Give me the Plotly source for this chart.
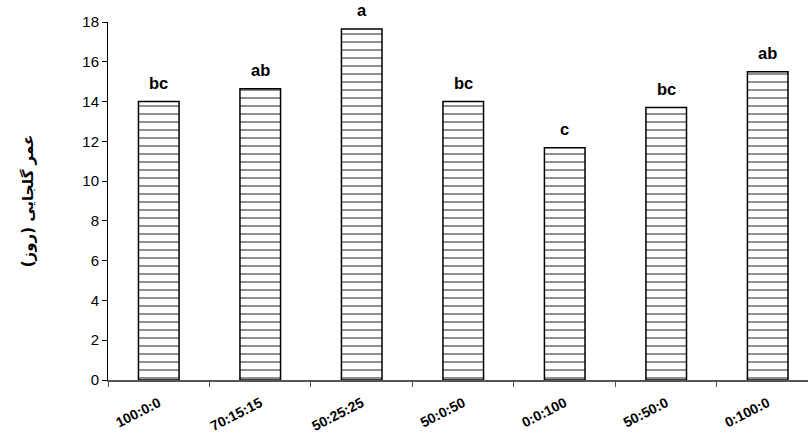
import plotly.graph_objects as go

categories = ["100:0:0", "70:15:15", "50:25:25", "50:0:50", "0:0:100", "50:50:0", "0:100:0"]
values = [14.0, 14.65, 17.65, 14.0, 11.68, 13.7, 15.5]
letters = ["bc", "ab", "a", "bc", "c", "bc", "ab"]
y_ticks = [0, 2, 4, 6, 8, 10, 12, 14, 16, 18]
y_title = "عمر گلجایی (روز)"

fig = go.Figure()
fig.add_trace(go.Bar(
    x=categories, y=values, width=0.4,
    marker=dict(
        color="white",
        line=dict(color="black", width=1.5),
        pattern=dict(shape="-", size=8, solidity=0.25, fgcolor="#333333",
                     fgopacity=0.55, bgcolor="white", fillmode="overlay"),
    ),
    showlegend=False,
))

for c, v, t in zip(categories, values, letters):
    fig.add_annotation(x=c, y=v, text=t, showarrow=False, yanchor="bottom", yshift=8,
                       font=dict(family="Liberation Sans, Arial", size=16.5, color="black", weight="bold"))

fig.update_layout(
    width=808, height=436,
    margin=dict(l=108, r=0, t=22, b=56),
    paper_bgcolor="white", plot_bgcolor="white",
    bargap=0.6,
    xaxis=dict(
        type="category", range=[-0.5, 6.397], automargin=False,
        showline=True, linecolor="#555555", linewidth=1.5,
        ticks="outside", ticklen=5, tickcolor="#555555", tickson="boundaries",
        tickangle=-27, ticklabelstandoff=8,
        tickfont=dict(family="Liberation Sans, Arial", size=14, color="black", weight="bold"),
        showgrid=False, zeroline=False,
    ),
    yaxis=dict(
        range=[0, 18], tickvals=y_ticks, automargin=False,
        showline=True, linecolor="black", linewidth=1,
        ticks="outside", ticklen=5, tickcolor="black",
        tickfont=dict(family="Liberation Sans, Arial", size=15, color="black"),
        showgrid=False, zeroline=False,
        title=dict(text=y_title, standoff=45,
                   font=dict(family="DejaVu Sans", size=15, color="black", weight="bold")),
    ),
)

fig.write_html("out.html", config={"displayModeBar": False},
               post_script="document.body.style.margin='0px';")
